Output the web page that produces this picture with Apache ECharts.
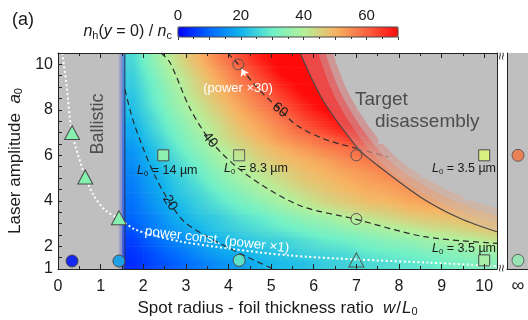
<!DOCTYPE html>
<html><head><meta charset="utf-8">
<script src="https://cdn.jsdelivr.net/npm/echarts@6/dist/echarts.min.js"></script>
<style>html,body{margin:0;padding:0;background:#fff}#c{width:528px;height:320px}</style>
</head><body><div id="c"></div>
<script>
// ---------------- DATA ----------------
const xTicks = [0,1,2,3,4,5,6,7,8,9,10];
const yTickLabels = [1,2,4,6,8,10];
const cbarTickLabels = [0,20,40,60];
// heat-map cell centres (w/L0, a0)
const xCenters = [1.75,2.25,2.75,3.25,3.75,4.25,4.75,5.25,5.75,6.25,6.75,7.25,7.75,8.25,8.75,9.25,9.75,10.25];
const yCenters = [1.25,1.75,2.25,2.75,3.25,3.75,4.25,4.75,5.25,5.75,6.25,6.75,7.25,7.75,8.25,8.75,9.25,9.75,10.25];
// n_h(y=0)/n_c, rows bottom (a0=1.25) to top (a0=10.25)
const nhGrid = [
 [4,7,9,12,15,17,20,21,22,24,25,26,27,28,29,31,32,33],
 [5,8,11,15,18,20,22,23,25,26,27,29,30,31,33,34,36,37],
 [6,10,14,17,20,22,24,25,27,29,30,32,34,35,37,39,40,42],
 [8,13,17,20,23,25,27,29,31,33,35,37,39,41,43,44,46,47],
 [10,14,19,22,24,27,29,32,35,37,40,42,44,46,47,48,49,50],
 [11,16,20,24,27,30,33,37,40,43,45,47,48,50,51,52,53,54],
 [12,17,22,25,29,33,37,40,43,46,48,50,51,53,54,55,null,null],
 [13,18,23,27,32,36,40,43,46,48,50,52,53,55,56,null,null,null],
 [14,19,24,29,34,39,42,45,48,50,52,54,56,57,null,null,null,null],
 [15,21,26,31,37,41,45,48,50,52,55,57,59,61,null,null,null,null],
 [16,22,28,34,39,43,47,50,53,56,58,61,64,null,null,null,null,null],
 [18,24,30,36,42,46,50,54,57,60,64,68,null,null,null,null,null,null],
 [19,26,32,38,43,48,52,56,61,65,69,72,null,null,null,null,null,null],
 [21,27,34,40,45,50,54,59,64,68,72,72,null,null,null,null,null,null],
 [22,29,36,42,47,52,57,62,67,72,72,null,null,null,null,null,null,null],
 [23,30,37,44,49,54,59,65,70,72,72,null,null,null,null,null,null,null],
 [24,31,39,45,51,57,62,68,72,72,72,null,null,null,null,null,null,null],
 [25,33,41,47,53,59,65,71,72,72,72,null,null,null,null,null,null,null],
 [26,35,43,49,56,62,68,71,72,72,null,null,null,null,null,null,null,null]
];
const ballisticSpan = [[0, 1.57]];
const disBoundary = [[5.68,10.5],[6.22,8.41],[7.01,6.36],[7.32,5.82],[8.5,4.17],[9.44,3.22],[10.3,2.64]];
const disOuter = [[6.45,10.5],[6.8,8.8],[7.4,7.0],[8.0,5.8],[8.8,4.8],[9.6,4.1],[10.3,3.65]];
const contour20 = [[1.57,8.9],[1.75,7.6],[2.0,6.3],[2.3,5.0],[2.63,3.9],[2.98,3.05],[3.65,2.27],[4.43,1.54],[5.05,1.0]];
const contour40 = [[2.42,10.5],[2.63,10.07],[3.1,8.05],[3.57,6.66],[4.19,5.49],[4.98,4.46],[5.76,3.73],[6.96,3.2],[8.6,2.42],[10.3,2.13]];
const contour60 = [[3.98,10.5],[4.23,10.0],[4.66,9.0],[5.21,8.0],[5.6,7.32],[6.23,6.73],[7.01,6.3]];
const contour60Hidden = [[7.01,6.3],[7.75,5.93]];
const powerConst = [[0.1,10.5],[0.2,9.1],[0.33,7.0],[0.64,5.05],[0.85,4.2],[1.1,3.6],[1.42,3.22],[1.8,2.75],[2.3,2.45],[2.9,2.2],[4.0,1.9],[5.4,1.6],[7.0,1.42],[8.7,1.28],[10.3,1.13]];
const power30Arrow = [[4.39,9.5],[4.31,9.8]];
const triFilled = [[0.33,7.0],[0.64,5.05],[1.43,3.25]];
const triOpen = [[7.0,1.4]];
const circOpen = [[4.23,10.0],[7.0,6.0],[7.0,3.2]];
const circFilled = [[0.33,1.35],[1.43,1.35],[4.25,1.38]];
const sqFilled = [[2.47,6.0],[10.0,6.0],[10.0,1.38]];
const sqOpen = [[4.25,6.0]];
const infCategories = ['\u221e'];
const infCircles = [['\u221e',6.0],['\u221e',1.38]];

// ---------------- STYLE ----------------
const FONT = '"Liberation Sans", Arial, Helvetica, sans-serif';
const GRAY = '#bfbfbf';
const cmap = ['#0000ff','#0068ff','#12b4ee','#6ff0c8','#b4f09c','#f7b462','#fa6442','#ff0a0a'];
const VMIN = 0, VMAX = 70;
const circFilledColors = ['#1428f0','#1ea0e6','#5fe0c8'];
const sqFilledColors = ['#8ef0b0','#d8f080','#a8f0a8'];
const infColors = ['#f5703c','#90eeb0'];

// colour lookup identical to the continuous visualMap (linear in value, RGB blend)
const cmapRgb = cmap.map(h => [parseInt(h.substr(1,2),16), parseInt(h.substr(3,2),16), parseInt(h.substr(5,2),16)]);
function colorOf(v) {
  const t = Math.max(0, Math.min(1, (v - VMIN) / (VMAX - VMIN))) * (cmapRgb.length - 1);
  const k = Math.min(cmapRgb.length - 2, Math.floor(t)), f = t - k;
  const a = cmapRgb[k], b = cmapRgb[k + 1];
  return 'rgb(' + Math.round(a[0] + (b[0]-a[0])*f) + ',' + Math.round(a[1] + (b[1]-a[1])*f) + ',' + Math.round(a[2] + (b[2]-a[2])*f) + ')';
}
function cellVal(i, j) {
  j = Math.max(0, Math.min(nhGrid.length - 1, j));
  i = Math.max(0, Math.min(xCenters.length - 1, i));
  const row = nhGrid[j];
  while (i > 0 && row[i] === null) i--;
  return row[i];
}
// smooth shading between the read cell values (rendering only)
function shade(u, w) {
  const i0 = Math.floor(u), j0 = Math.floor(w), fu = u - i0, fw = w - j0;
  const a = cellVal(i0, j0), b = cellVal(i0 + 1, j0), c = cellVal(i0, j0 + 1), d = cellVal(i0 + 1, j0 + 1);
  return (a * (1 - fu) + b * fu) * (1 - fw) + (c * (1 - fu) + d * fu) * fw;
}

const cellData = [], cellIdx = [];
nhGrid.forEach((row, j) => row.forEach((v, i) => { if (v !== null) { cellData.push([xCenters[i], yCenters[j], v]); cellIdx.push([i, j]); } }));

function clipTo(cs, r) {
  return echarts.graphic.clipRectByRect(r, {x: cs.x, y: cs.y, width: cs.width, height: cs.height});
}
const NSUB = 4;
function renderCell(params, api) {
  const x = api.value(0), y = api.value(1);
  const ij = cellIdx[params.dataIndex];
  const p0 = api.coord([x - 0.25, y + 0.25]);
  const p1 = api.coord([x + 0.25, y - 0.25]);
  const H = p1[1] - p0[1];
  const kids = [];
  for (let k = 0; k < NSUB; k++) {
    const w = ij[1] + 0.5 - (k + 0.5) / NSUB;
    const stops = [];
    for (let s = 0; s <= 4; s++) stops.push({offset: s / 4, color: colorOf(shade(ij[0] - 0.5 + s / 4, w))});
    const r = clipTo(params.coordSys, {x: p0[0], y: p0[1] + H * k / NSUB, width: p1[0] - p0[0] + 0.6, height: H / NSUB + 0.6});
    if (r) kids.push({type: 'rect', shape: r, style: {fill: new echarts.graphic.LinearGradient(0, 0, 1, 0, stops)}});
  }
  return {type: 'group', children: kids};
}
function renderBallistic(params, api) {
  const cs = params.coordSys;
  const pa = api.coord([api.value(0), 1]);
  const pb = api.coord([api.value(1), 1]);
  const fw = 7;
  return {type: 'group', children: [
    {type: 'rect', shape: {x: pa[0], y: cs.y, width: pb[0] - pa[0] - fw, height: cs.height}, style: {fill: GRAY}},
    {type: 'rect', shape: {x: pb[0] - fw, y: cs.y, width: fw, height: cs.height},
      style: {fill: new echarts.graphic.LinearGradient(0, 0, 1, 0, [{offset: 0, color: GRAY}, {offset: 1, color: 'rgba(60,80,220,0.55)'}])}},
    {type: 'line', shape: {x1: pb[0], y1: cs.y, x2: pb[0], y2: cs.y + cs.height}, style: {stroke: '#2a3560', lineWidth: 1}}
  ]};
}
// soft gray fade on the inner side of the fully disassembled region
function renderSoft(params, api) {
  if (params.dataIndex !== 0) return null;
  const pts = disOuter.map(p => api.coord(p));
  return {type: 'group', children: [
    {type: 'polyline', shape: {points: pts, smooth: 0.3}, style: {stroke: GRAY, lineWidth: 28, opacity: 0.3, fill: null, lineCap: 'round'}},
    {type: 'polyline', shape: {points: pts, smooth: 0.3}, style: {stroke: GRAY, lineWidth: 14, opacity: 0.5, fill: null, lineCap: 'round'}}
  ]};
}

const axisTxt = {color: '#1a1a1a', fontSize: 16, fontFamily: FONT};
const lineCol = '#222';

function mk(data, symbol, size, color, border, extra) {
  return Object.assign({type: 'scatter', xAxisIndex: 0, yAxisIndex: 0, data: data, symbol: symbol, symbolSize: size, z: 6,
    itemStyle: {color: color, borderColor: border || '#4a4a4a', borderWidth: 1, opacity: 1}, silent: true}, extra || {});
}
const nameRich = {i: {fontStyle: 'italic', fontSize: 17, fontFamily: FONT, color: '#1a1a1a'},
  n: {fontSize: 17, fontFamily: FONT, color: '#1a1a1a', padding: [0, 1, 0, 1]},
  s: {fontSize: 11, fontFamily: FONT, color: '#1a1a1a', padding: [7, 0, 0, 0]}};

const option = {
  animation: false,
  backgroundColor: '#ffffff',
  grid: [
    {left: 58, top: 53, width: 439, height: 216, show: true, backgroundColor: GRAY, borderWidth: 0, outerBoundsMode: 'none', containLabel: false},
    {left: 507, top: 53, width: 22, height: 216, show: true, backgroundColor: GRAY, borderWidth: 0, outerBoundsMode: 'none', containLabel: false},
    {left: 178, top: 27, width: 220, height: 10, show: false, outerBoundsMode: 'none', containLabel: false}
  ],
  xAxis: [
    {gridIndex: 0, type: 'value', min: 0, max: 10.3, interval: 1, z: 10,
      axisLine: {show: true, onZero: false, lineStyle: {color: lineCol, width: 1}},
      axisTick: {inside: true, length: 5, lineStyle: {color: lineCol}},
      minorTick: {show: true, splitNumber: 2, length: 3, lineStyle: {color: lineCol}},
      splitLine: {show: false},
      axisLabel: Object.assign({margin: 10, formatter: v => xTicks.indexOf(v) >= 0 ? String(v) : ''}, axisTxt),
      name: 'Spot radius - foil thickness ratio  {i|w}{n|/}{i|L}{s|0}', nameLocation: 'middle', nameGap: 27,
      nameTextStyle: {color: '#1a1a1a', fontSize: 17, fontFamily: FONT, rich: nameRich}},
    {gridIndex: 0, type: 'value', min: 0, max: 10.3, interval: 1, position: 'top', z: 10,
      axisLine: {show: true, onZero: false, lineStyle: {color: lineCol}},
      axisTick: {inside: true, length: 5, lineStyle: {color: lineCol}},
      minorTick: {show: true, splitNumber: 2, length: 3, lineStyle: {color: lineCol}},
      splitLine: {show: false}, axisLabel: {show: false}},
    {gridIndex: 1, type: 'category', data: infCategories, z: 10,
      axisLine: {show: true, lineStyle: {color: lineCol}}, axisTick: {show: false},
      axisLabel: {margin: 8, color: '#1a1a1a', fontSize: 18, fontFamily: FONT}},
    {gridIndex: 2, type: 'value', min: 0, max: 70, interval: 10, position: 'top', z: 10,
      axisLine: {show: false}, axisTick: {inside: true, length: 3, lineStyle: {color: '#333'}},
      minorTick: {show: true, splitNumber: 2, length: 2, lineStyle: {color: '#333'}},
      splitLine: {show: false},
      axisLabel: Object.assign({margin: 4, formatter: v => cbarTickLabels.indexOf(v) >= 0 ? String(v) : ''}, axisTxt, {fontSize: 15})}
  ],
  yAxis: [
    {gridIndex: 0, type: 'value', min: 1, max: 10.5, interval: 0.5, z: 10,
      axisLine: {show: true, onZero: false, lineStyle: {color: lineCol}},
      axisTick: {inside: true, length: 4, lineStyle: {color: lineCol}},
      splitLine: {show: false},
      axisLabel: Object.assign({margin: 5, formatter: v => yTickLabels.indexOf(v) >= 0 ? String(v) : ''}, axisTxt),
      name: 'Laser amplitude  {i|a}{s|0}', nameLocation: 'middle', nameGap: 31,
      nameTextStyle: {color: '#1a1a1a', fontSize: 17, fontFamily: FONT, rich: nameRich}},
    {gridIndex: 0, type: 'value', min: 1, max: 10.5, position: 'right', z: 10,
      axisLine: {show: true, onZero: false, lineStyle: {color: lineCol}}, axisTick: {show: false},
      axisLabel: {show: false}, splitLine: {show: false}},
    {gridIndex: 1, type: 'value', min: 1, max: 10.5, interval: 0.5, z: 10,
      axisLine: {show: true, onZero: false, lineStyle: {color: lineCol}},
      axisTick: {inside: true, length: 4, lineStyle: {color: lineCol}},
      axisLabel: {show: false}, splitLine: {show: false}},
    {gridIndex: 2, type: 'value', min: 0, max: 1, show: false}
  ],
  visualMap: {
    type: 'continuous', min: VMIN, max: VMAX, dimension: 2, seriesIndex: [0],
    orient: 'horizontal', left: 178, top: 27, itemWidth: 10, itemHeight: 220, padding: 0,
    calculable: false, hoverLink: false, realtime: false,
    inRange: {color: cmap}
  },
  series: [
    {type: 'custom', name: 'nh', xAxisIndex: 0, yAxisIndex: 0, data: cellData, encode: {x: 0, y: 1},
      renderItem: renderCell, z: 1, silent: true},
    {type: 'custom', name: 'ballistic', xAxisIndex: 0, yAxisIndex: 0, data: ballisticSpan, encode: {x: [0, 1]},
      renderItem: renderBallistic, z: 2, silent: true},
    {type: 'line', name: 'disBand', xAxisIndex: 0, yAxisIndex: 0, data: disBoundary, smooth: 0.3, symbol: 'none',
      lineStyle: {width: 0, opacity: 0}, areaStyle: {origin: 'end', color: 'rgba(200,186,186,0.5)'}, z: 3, silent: true},
    {type: 'custom', name: 'disSoft', xAxisIndex: 0, yAxisIndex: 0, data: disOuter, encode: {x: 0, y: 1},
      renderItem: renderSoft, clip: true, z: 3, silent: true},
    {type: 'line', name: 'disOuter', xAxisIndex: 0, yAxisIndex: 0, data: disOuter, smooth: 0.3, symbol: 'none',
      lineStyle: {width: 0, opacity: 0},
      areaStyle: {origin: 'end', color: GRAY, opacity: 1}, z: 3, silent: true},
    {type: 'line', name: 'disLine', xAxisIndex: 0, yAxisIndex: 0, data: disBoundary, smooth: 0.3, symbol: 'none',
      lineStyle: {color: '#4a4444', width: 1.1}, z: 4, silent: true},
    {type: 'line', name: 'c20', xAxisIndex: 0, yAxisIndex: 0, data: contour20, smooth: 0.3, symbol: 'none',
      lineStyle: {color: '#2b2b2b', width: 1.2, type: [6, 4]}, z: 4, silent: true},
    {type: 'line', name: 'c40', xAxisIndex: 0, yAxisIndex: 0, data: contour40, smooth: 0.3, symbol: 'none',
      lineStyle: {color: '#2b2b2b', width: 1.2, type: [6, 4]}, z: 4, silent: true},
    {type: 'line', name: 'c60', xAxisIndex: 0, yAxisIndex: 0, data: contour60, smooth: 0.3, symbol: 'none',
      lineStyle: {color: '#2b2b2b', width: 1.2, type: [6, 4]}, z: 4, silent: true},
    {type: 'line', name: 'c60b', xAxisIndex: 0, yAxisIndex: 0, data: contour60Hidden, smooth: 0.3, symbol: 'none',
      lineStyle: {color: 'rgba(110,110,110,0.6)', width: 1.2, type: [6, 4]}, z: 4, silent: true},
    {type: 'line', name: 'powerConst', xAxisIndex: 0, yAxisIndex: 0, data: powerConst, smooth: 0.3, symbol: 'none',
      lineStyle: {color: '#ffffff', width: 2, type: [2, 2.5]}, z: 4, silent: true},
    {type: 'line', name: 'arrow', xAxisIndex: 0, yAxisIndex: 0, data: [], z: 6, silent: true,
      markLine: {silent: true, symbol: ['none', 'arrow'], symbolSize: 7, label: {show: false},
        lineStyle: {color: '#ffffff', width: 1.5, type: 'solid'},
        data: [[{coord: power30Arrow[0]}, {coord: power30Arrow[1]}]]}},
    mk(triFilled, 'triangle', [15, 14], '#86f0ae'),
    mk(triOpen, 'triangle', [15, 14], 'rgba(0,0,0,0)', '#4a5a4a'),
    mk(circOpen, 'circle', 11, 'rgba(0,0,0,0)', '#5a5050'),
    mk(circFilled, 'circle', 12, (p) => circFilledColors[p.dataIndex]),
    mk(sqFilled, 'rect', 11, (p) => sqFilledColors[p.dataIndex]),
    mk(sqOpen, 'rect', 11, 'rgba(0,0,0,0)', '#5a5a5a'),
    {type: 'scatter', xAxisIndex: 2, yAxisIndex: 2, data: infCircles, symbol: 'circle', symbolSize: 12, z: 6, silent: true,
      itemStyle: {color: (p) => infColors[p.dataIndex], borderColor: '#4a4a4a', borderWidth: 1}},
    {type: 'scatter', xAxisIndex: 3, yAxisIndex: 3, data: []}
  ]
};

const chart = echarts.init(document.getElementById('c'), null, {renderer: 'canvas', width: 528, height: 320});
chart.setOption(option);

const white = '#ffffff', dark = '#4d4d4d';
function txt(x, y, text, size, color, extra, style) {
  return Object.assign({type: 'text', x: x, y: y, z: 100, silent: true,
    style: Object.assign({text: text, fontSize: size, fontFamily: FONT, fill: color, align: 'center', verticalAlign: 'middle'}, style || {})}, extra || {});
}
const subRich = {
  i: {fontStyle: 'italic', fontSize: 16, fontFamily: FONT, fill: '#1a1a1a'},
  r: {fontSize: 16, fontFamily: FONT, fill: '#1a1a1a'},
  s: {fontSize: 11, fontFamily: FONT, fill: '#1a1a1a', padding: [8, 0, 0, 0]}
};
function lRich(size) {
  return {
    i: {fontStyle: 'italic', fontSize: size, fontFamily: FONT, fill: '#1a1a1a'},
    r: {fontSize: size, fontFamily: FONT, fill: '#1a1a1a'},
    s: {fontSize: size * 0.62, fontFamily: FONT, fill: '#1a1a1a', padding: [6, 0, 0, 0]}
  };
}
const L = (v) => '{i|L}{s|0}{r| = ' + v + ' \u00b5m}';
chart.setOption({graphic: [
  txt(12, 20, '(a)', 18, '#1a1a1a', {}, {align: 'left'}),
  txt(172, 32, '{i|n}{s|h}{r|(}{i|y}{r| = 0) / }{i|n}{s|c}', 16, '#1a1a1a', {}, {align: 'right', rich: subRich}),
  {type: 'rect', z: 100, silent: true, shape: {x: 178, y: 27, width: 220, height: 10}, style: {fill: 'none', stroke: '#444', lineWidth: 1}},
  txt(98, 124, 'Ballistic', 18, dark, {rotation: Math.PI / 2}),
  txt(355, 100, 'Target', 19, dark, {}, {align: 'left'}),
  txt(375, 122, 'disassembly', 19, dark, {}, {align: 'left'}),
  txt(238, 88, '(power \u00d730)', 13, white),
  txt(217, 240, 'power const. (power \u00d71)', 13.5, white, {rotation: -0.12}),
  txt(280, 110, '60', 14, '#1a1a1a', {rotation: -0.7}),
  txt(210, 140, '40', 14, '#1a1a1a', {rotation: -0.88}),
  txt(170, 203, '20', 14, '#1a1a1a', {rotation: -1.0}),
  txt(137, 171, L('14'), 12.5, '#1a1a1a', {}, {align: 'left', rich: lRich(12.5)}),
  txt(224, 169, L('8.3'), 12.5, '#1a1a1a', {}, {align: 'left', rich: lRich(12.5)}),
  txt(496, 169, L('3.5'), 12.5, '#1a1a1a', {}, {align: 'right', rich: lRich(12.5)}),
  txt(496, 249, L('3.5'), 12.5, '#1a1a1a', {}, {align: 'right', rich: lRich(12.5)}),
  txt(502, 56, '\u2248', 14, '#333', {rotation: Math.PI / 2}),
  txt(502, 268, '\u2248', 14, '#333', {rotation: Math.PI / 2})
]});
</script></body></html>
